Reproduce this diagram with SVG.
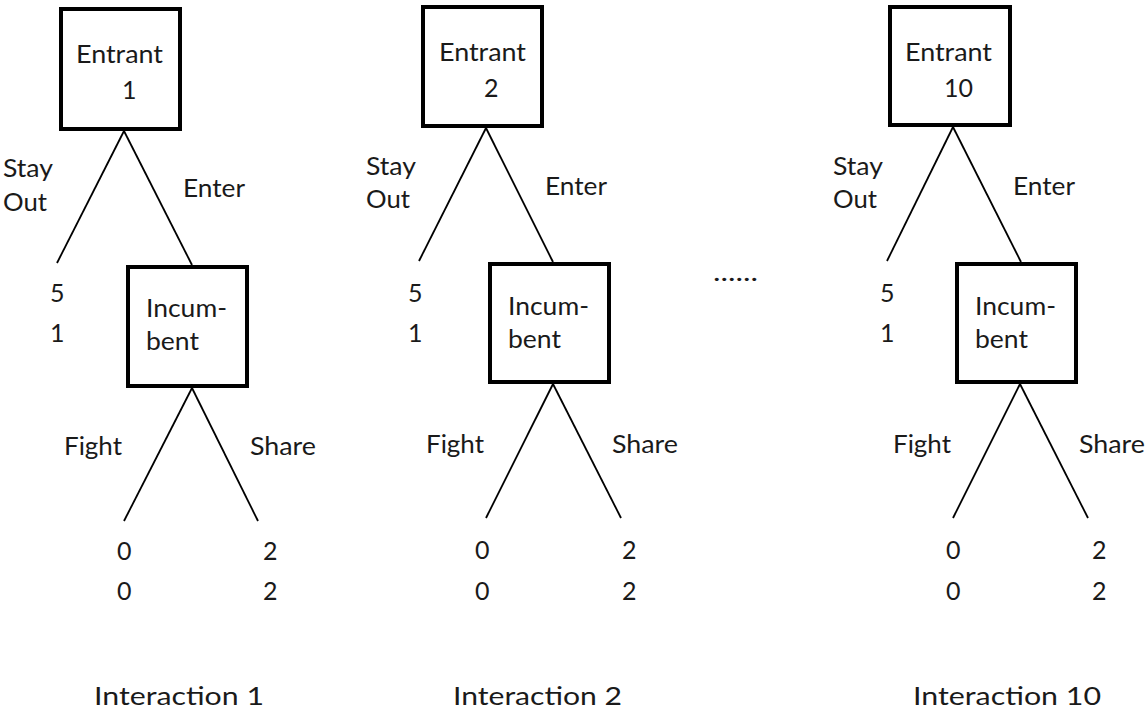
<svg xmlns="http://www.w3.org/2000/svg" width="1148" height="711" viewBox="0 0 1148 711">
<style>
text{font-family:"Lato","Open Sans","Liberation Sans",sans-serif;font-size:25px;fill:#1a1a1a}
.box{fill:#fff;stroke:#000;stroke-width:4}
.edge{stroke:#000;stroke-width:1.8;fill:none}
</style>
<rect width="1148" height="711" fill="#fff"/>
<g id="connectors">
<line class="edge" x1="124" y1="131" x2="57" y2="263"/>
<line class="edge" x1="124" y1="131" x2="192" y2="265"/>
<line class="edge" x1="192" y1="388" x2="124" y2="521"/>
<line class="edge" x1="192" y1="388" x2="258" y2="521"/>
<line class="edge" x1="486" y1="128" x2="419" y2="261"/>
<line class="edge" x1="486" y1="128" x2="553" y2="262"/>
<line class="edge" x1="553" y1="384" x2="486" y2="518"/>
<line class="edge" x1="553" y1="384" x2="621" y2="518"/>
<line class="edge" x1="953" y1="127" x2="887" y2="261"/>
<line class="edge" x1="953" y1="127" x2="1021" y2="262"/>
<line class="edge" x1="1020" y1="384" x2="953" y2="518"/>
<line class="edge" x1="1020" y1="384" x2="1088" y2="518"/>
</g>
<g id="edge-labels">
<text x="3" y="177" textLength="50" lengthAdjust="spacingAndGlyphs">Stay</text>
<text x="3" y="211" textLength="44" lengthAdjust="spacingAndGlyphs">Out</text>
<text x="183" y="197" textLength="62" lengthAdjust="spacingAndGlyphs">Enter</text>
<text x="64" y="455" textLength="58" lengthAdjust="spacingAndGlyphs">Fight</text>
<text x="250" y="455" textLength="66" lengthAdjust="spacingAndGlyphs">Share</text>
<text x="366" y="175" textLength="50" lengthAdjust="spacingAndGlyphs">Stay</text>
<text x="366" y="208" textLength="44" lengthAdjust="spacingAndGlyphs">Out</text>
<text x="545" y="195" textLength="62" lengthAdjust="spacingAndGlyphs">Enter</text>
<text x="426" y="453" textLength="58" lengthAdjust="spacingAndGlyphs">Fight</text>
<text x="612" y="453" textLength="66" lengthAdjust="spacingAndGlyphs">Share</text>
<text x="833" y="175" textLength="50" lengthAdjust="spacingAndGlyphs">Stay</text>
<text x="833" y="208" textLength="44" lengthAdjust="spacingAndGlyphs">Out</text>
<text x="1013" y="195" textLength="62" lengthAdjust="spacingAndGlyphs">Enter</text>
<text x="893" y="453" textLength="58" lengthAdjust="spacingAndGlyphs">Fight</text>
<text x="1079" y="453" textLength="66" lengthAdjust="spacingAndGlyphs">Share</text>
</g>
<g id="entrant1">
<rect class="box" x="61" y="9" width="119" height="120"/>
<text x="76" y="63" textLength="87" lengthAdjust="spacingAndGlyphs">Entrant</text>
<text x="122" y="99">1</text>
</g>
<g id="incumbent1">
<rect class="box" x="128" y="267" width="119" height="119"/>
<text x="146" y="317" textLength="81" lengthAdjust="spacingAndGlyphs">Incum-</text>
<text x="146" y="350" textLength="53" lengthAdjust="spacingAndGlyphs">bent</text>
</g>
<g id="payoff1-stay"><text x="50" y="302">5</text><text x="50" y="342">1</text></g>
<g id="payoff1-fight"><text x="117" y="560">0</text><text x="117" y="600">0</text></g>
<g id="payoff1-share"><text x="263" y="560">2</text><text x="263" y="600">2</text></g>
<g id="entrant2">
<rect class="box" x="423" y="7" width="119" height="119"/>
<text x="439" y="61" textLength="87" lengthAdjust="spacingAndGlyphs">Entrant</text>
<text x="484" y="97">2</text>
</g>
<g id="incumbent2">
<rect class="box" x="490" y="264" width="119" height="118"/>
<text x="508" y="315" textLength="81" lengthAdjust="spacingAndGlyphs">Incum-</text>
<text x="508" y="348" textLength="53" lengthAdjust="spacingAndGlyphs">bent</text>
</g>
<g id="payoff2-stay"><text x="408" y="302">5</text><text x="408" y="342">1</text></g>
<g id="payoff2-fight"><text x="475" y="559">0</text><text x="475" y="600">0</text></g>
<g id="payoff2-share"><text x="622" y="559">2</text><text x="622" y="600">2</text></g>
<g id="entrant10">
<rect class="box" x="890" y="7" width="120" height="118"/>
<text x="905" y="61" textLength="87" lengthAdjust="spacingAndGlyphs">Entrant</text>
<text x="944" y="97" textLength="29" lengthAdjust="spacingAndGlyphs">10</text>
</g>
<g id="incumbent10">
<rect class="box" x="957" y="264" width="119" height="118"/>
<text x="975" y="315" textLength="81" lengthAdjust="spacingAndGlyphs">Incum-</text>
<text x="975" y="348" textLength="53" lengthAdjust="spacingAndGlyphs">bent</text>
</g>
<g id="payoff10-stay"><text x="880" y="302">5</text><text x="880" y="342">1</text></g>
<g id="payoff10-fight"><text x="946" y="559">0</text><text x="946" y="600">0</text></g>
<g id="payoff10-share"><text x="1092" y="559">2</text><text x="1092" y="600">2</text></g>
<g id="ellipsis"><text x="713" y="281" textLength="45" lengthAdjust="spacingAndGlyphs">......</text></g>
<g id="captions">
<text x="94" y="705" textLength="170" lengthAdjust="spacingAndGlyphs">Interaction 1</text>
<text x="453" y="705" textLength="169" lengthAdjust="spacingAndGlyphs">Interaction 2</text>
<text x="913" y="705" textLength="188" lengthAdjust="spacingAndGlyphs">Interaction 10</text>
</g>
</svg>
